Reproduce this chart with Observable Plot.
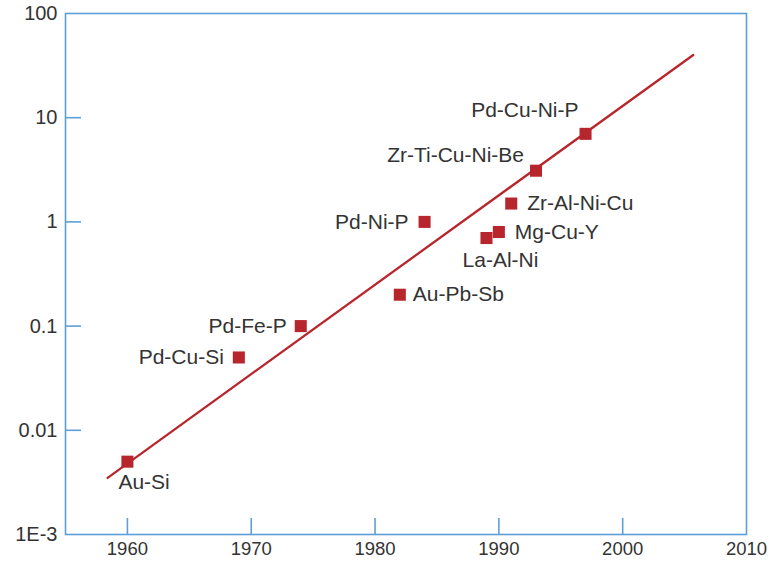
<!DOCTYPE html>
<html>
<head>
<meta charset="utf-8">
<script src="https://cdn.jsdelivr.net/npm/d3@7"></script>
<script src="https://cdn.jsdelivr.net/npm/@observablehq/plot@0.6"></script>
<style>
  html, body { margin: 0; padding: 0; background: #fff; }
  #chart { width: 773px; height: 563px; }
</style>
</head>
<body>
<div id="chart"></div>
<script>
// ---- data ----
const alloys = ["Au-Si", "Pd-Cu-Si", "Pd-Fe-P", "Au-Pb-Sb", "Pd-Ni-P", "La-Al-Ni", "Mg-Cu-Y", "Zr-Al-Ni-Cu", "Zr-Ti-Cu-Ni-Be", "Pd-Cu-Ni-P"];
const years = [1960, 1969, 1974, 1982, 1984, 1989, 1990, 1991, 1993, 1997];
const thickness = [0.005, 0.05, 0.1, 0.2, 1.0, 0.7, 0.8, 1.5, 3.1, 7.0];
const trendYears = [1958.4, 2005.7];
const trendValues = [0.0035, 40];
const xTickValues = [1960, 1970, 1980, 1990, 2000, 2010];
const xTickInner = [1960, 1970, 1980, 1990, 2000];
const yTickValues = [100, 10, 1, 0.1, 0.01, 0.001];
const yTickLabels = ["100", "10", "1", "0.1", "0.01", "1E-3"];
const yTickInner = [10, 1, 0.1, 0.01];

// ---- label placement (styling, separate from data) ----
const placement = {
  "Au-Si":          {textAnchor: "start", dx: -9,  dy: 21},
  "Pd-Cu-Si":       {textAnchor: "end",   dx: -15, dy: 0},
  "Pd-Fe-P":        {textAnchor: "end",   dx: -14, dy: 0},
  "Au-Pb-Sb":       {textAnchor: "start", dx: 13,  dy: 0},
  "Pd-Ni-P":        {textAnchor: "end",   dx: -16, dy: 0},
  "La-Al-Ni":       {textAnchor: "middle",dx: 14,  dy: 22},
  "Mg-Cu-Y":        {textAnchor: "start", dx: 16,  dy: 0},
  "Zr-Al-Ni-Cu":    {textAnchor: "start", dx: 16,  dy: 0},
  "Zr-Ti-Cu-Ni-Be": {textAnchor: "end",   dx: -12, dy: -15},
  "Pd-Cu-Ni-P":     {textAnchor: "end",   dx: -7,  dy: -24}
};

const points = alloys.map((name, i) => ({name, year: years[i], value: thickness[i]}));
const trend = trendYears.map((y, i) => ({year: y, value: trendValues[i]}));

const blue = "#5d9fd8";
const red = "#b8262d";
const ink = "#333333";
const font = "'Liberation Sans', Arial, Helvetica, sans-serif";

const labelMarks = points.map(p => Plot.text([p], {
  x: "year", y: "value", text: "name",
  fontSize: 21, fill: ink,
  ...placement[p.name]
}));

const chart = Plot.plot({
  width: 773,
  height: 563,
  marginLeft: 65,
  marginRight: 27,
  marginTop: 13,
  marginBottom: 29,
  style: {fontFamily: font, background: "#fff", color: ink, overflow: "visible"},
  x: {domain: [1955, 2010], axis: null, label: null},
  y: {type: "log", domain: [0.001, 100], axis: null, label: null},
  marks: [
    Plot.frame({stroke: blue, strokeWidth: 1.6}),
    // inward ticks
    Plot.axisX({ticks: xTickInner, tickSize: -16, stroke: blue, strokeWidth: 1.6, tickFormat: () => "", label: null}),
    Plot.axisY({ticks: yTickInner, tickSize: -16, stroke: blue, strokeWidth: 1.6, tickFormat: () => "", label: null}),
    // tick labels
    Plot.axisX({ticks: xTickValues, tickSize: 0, tickPadding: 7, fontSize: 18.5, fill: ink, label: null, tickFormat: d => String(d)}),
    Plot.axisY({ticks: yTickValues, tickSize: 0, tickPadding: 8, fontSize: 20, fill: ink, label: null,
      tickFormat: d => yTickLabels[yTickValues.indexOf(d)]}),
    // trend line
    Plot.line(trend, {x: "year", y: "value", stroke: red, strokeWidth: 2.3}),
    // points
    Plot.dot(points, {x: "year", y: "value", symbol: "square", r: 6.8, fill: red, stroke: "none"}),
    ...labelMarks
  ]
});

document.getElementById("chart").appendChild(chart);
</script>
</body>
</html>
